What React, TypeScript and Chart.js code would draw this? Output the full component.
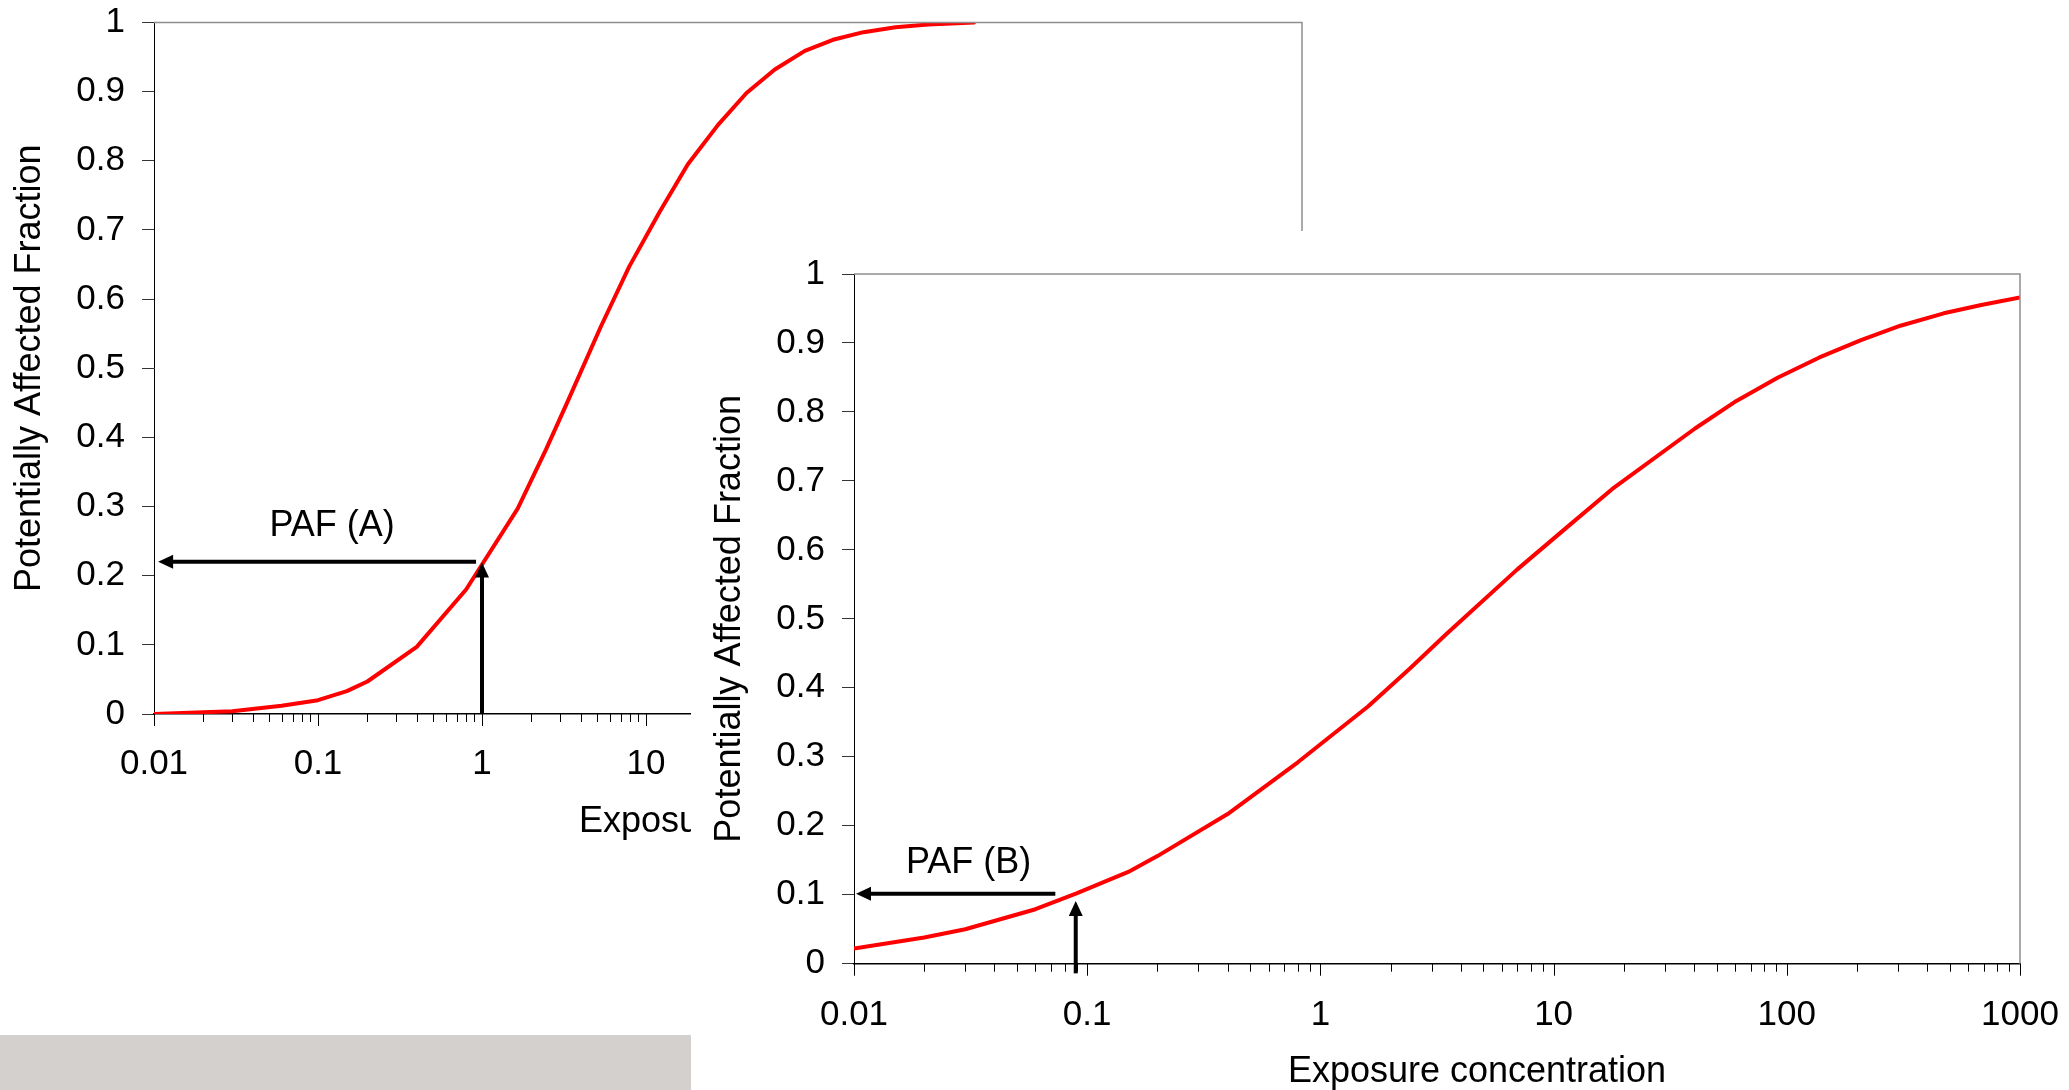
import React, { useEffect, useRef } from 'react';
import { Chart, registerables } from 'chart.js';

Chart.register(...registerables);

const FONT = "'Liberation Sans', Arial, Helvetica, sans-serif";

// ---- Chart A (left, behind) ----
const concA = [0.01, 0.02, 0.03, 0.06, 0.1, 0.15, 0.2, 0.4, 0.8, 1.65, 2.45, 3.3, 5.3, 7.9, 12.1, 18, 27.5, 41, 61, 93, 138, 212, 332, 525, 1000];
const pafA = [0, 0.0025, 0.004, 0.012, 0.02, 0.033, 0.047, 0.097, 0.18, 0.297, 0.382, 0.45, 0.56, 0.647, 0.726, 0.795, 0.852, 0.898, 0.932, 0.959, 0.975, 0.986, 0.993, 0.997, 1.0];

// ---- Chart B (right, in front) ----
const concB = [0.01, 0.02, 0.03, 0.06, 0.09, 0.15, 0.2, 0.4, 0.8, 1.6, 2.42, 3.47, 6.95, 11.8, 17.8, 40.4, 60.8, 91.7, 138, 208, 307, 471, 682, 1000];
const pafB = [0.022, 0.038, 0.05, 0.079, 0.102, 0.133, 0.156, 0.217, 0.292, 0.373, 0.428, 0.478, 0.571, 0.637, 0.688, 0.776, 0.816, 0.85, 0.879, 0.904, 0.925, 0.943, 0.955, 0.966];

// ---- Axes ----
const yTickValues = [0, 0.1, 0.2, 0.3, 0.4, 0.5, 0.6, 0.7, 0.8, 0.9, 1];
const yTickLabels = ['0', '0.1', '0.2', '0.3', '0.4', '0.5', '0.6', '0.7', '0.8', '0.9', '1'];
const xDecadesA = [0.01, 0.1, 1, 10, 100, 1000, 10000, 100000];
const xDecadeLabelsA = ['0.01', '0.1', '1', '10', '100', '1000', '10000', '100000'];
const xDecadesB = [0.01, 0.1, 1, 10, 100, 1000];
const xDecadeLabelsB = ['0.01', '0.1', '1', '10', '100', '1000'];
const minorSteps = [2, 3, 4, 5, 6, 7, 8, 9];

const yTitle = 'Potentially Affected Fraction';
const xTitle = 'Exposure concentration';

// arrows: [fromConc, fromPaf, toConc (head), toPaf (head)]
const arrowsA = [
  [0.92, 0.22, 0.0106, 0.22],
  [1, 0, 1, 0.219],
];
const arrowsB = [
  [0.073, 0.1015, 0.0102, 0.1015],
  [0.0893, -0.014, 0.0893, 0.091],
];
// [text, conc (centre), paf (baseline)]
const labelA: [string, number, number] = ['PAF (A)', 0.122, 0.257];
const labelB: [string, number, number] = ['PAF (B)', 0.031, 0.131];

function isMajor(v: number) {
  const l = Math.log10(v);
  return Math.abs(l - Math.round(l)) < 1e-6;
}

function drawArrow(ctx: CanvasRenderingContext2D, x0: number, y0: number, x1: number, y1: number) {
  const ang = Math.atan2(y1 - y0, x1 - x0);
  const headLen = 15;
  const headW = 14;
  const bx = x1 - headLen * Math.cos(ang);
  const by = y1 - headLen * Math.sin(ang);
  ctx.strokeStyle = '#000';
  ctx.fillStyle = '#000';
  ctx.lineWidth = 4;
  ctx.lineCap = 'butt';
  ctx.beginPath();
  ctx.moveTo(x0, y0);
  ctx.lineTo(bx + Math.cos(ang), by + Math.sin(ang));
  ctx.stroke();
  ctx.beginPath();
  ctx.moveTo(x1, y1);
  ctx.lineTo(bx + (headW / 2) * Math.sin(ang), by - (headW / 2) * Math.cos(ang));
  ctx.lineTo(bx - (headW / 2) * Math.sin(ang), by + (headW / 2) * Math.cos(ang));
  ctx.closePath();
  ctx.fill();
}

function makeConfig(p: any) {
  const { conc, paf, decades, decadeLabels, arrows, label, yTitlePad, layoutPadding, yWidth, xHeight, xLabelPad } = p;
  const xTickList: { value: number }[] = [];
  const max = decades[decades.length - 1];
  for (const d of decades) {
    xTickList.push({ value: d });
    if (d < max) for (const m of minorSteps) xTickList.push({ value: d * m });
  }

  const decor = {
    id: 'decor',
    afterDraw(chart: any) {
      const { ctx, chartArea: ca } = chart;
      const xs = chart.scales.x;
      const ys = chart.scales.y;
      ctx.save();
      // top & right frame
      ctx.strokeStyle = '#8f8f8f';
      ctx.lineWidth = 1.5;
      ctx.beginPath();
      ctx.moveTo(ca.left, ca.top);
      ctx.lineTo(ca.right, ca.top);
      ctx.lineTo(ca.right, ca.bottom);
      ctx.stroke();
      // x tick marks (major longer)
      ctx.strokeStyle = '#000';
      ctx.lineWidth = 1;
      ctx.beginPath();
      for (const t of xs.ticks) {
        const px = Math.round(xs.getPixelForValue(t.value)) + 0.5;
        ctx.moveTo(px, ca.bottom);
        ctx.lineTo(px, ca.bottom + (isMajor(t.value) ? 12 : 8));
      }
      ctx.stroke();
      // arrows
      for (const a of arrows) {
        drawArrow(ctx, xs.getPixelForValue(a[0]), ys.getPixelForValue(a[1]), xs.getPixelForValue(a[2]), ys.getPixelForValue(a[3]));
      }
      // texts
      ctx.fillStyle = '#000';
      ctx.font = `36px ${FONT}`;
      ctx.textAlign = 'center';
      ctx.textBaseline = 'alphabetic';
      ctx.fillText(label[0], xs.getPixelForValue(label[1]), ys.getPixelForValue(label[2]));
      ctx.fillText(xTitle, (ca.left + ca.right) / 2 + 40, ca.bottom + 118);
      ctx.restore();
    },
  };

  return {
    type: 'line',
    data: {
      datasets: [
        {
          data: conc.map((c: number, i: number) => ({ x: c, y: paf[i] })),
          borderColor: '#ff0000',
          backgroundColor: '#ff0000',
          borderWidth: 4,
          pointRadius: 0,
          tension: 0,
          fill: false,
          borderCapStyle: 'round',
          borderJoinStyle: 'round',
        },
      ],
    },
    options: {
      responsive: false,
      animation: false,
      events: [],
      layout: { padding: layoutPadding, autoPadding: false },
      plugins: { legend: { display: false }, tooltip: { enabled: false }, title: { display: false } },
      scales: {
        x: {
          type: 'logarithmic',
          min: decades[0],
          max,
          afterBuildTicks: (s: any) => {
            s.ticks = xTickList.map((t) => ({ value: t.value }));
          },
          afterFit: (s: any) => {
            s.height = xHeight;
            s.paddingLeft = 0;
            s.paddingRight = 0;
          },
          ticks: {
            autoSkip: false,
            maxRotation: 0,
            minRotation: 0,
            padding: xLabelPad,
            color: '#000',
            font: { family: FONT, size: 35 },
            callback: (v: number) => {
              const i = decades.findIndex((d: number) => Math.abs(d - v) / d < 1e-9);
              return i >= 0 ? decadeLabels[i] : '';
            },
          },
          grid: { display: true, drawOnChartArea: false, drawTicks: false },
          border: { display: true, color: '#000', width: 1.5 },
        },
        y: {
          type: 'linear',
          min: 0,
          max: 1,
          afterBuildTicks: (s: any) => {
            s.ticks = yTickValues.map((v) => ({ value: v }));
          },
          afterFit: (s: any) => {
            s.width = yWidth;
            s.paddingTop = 0;
            s.paddingBottom = 0;
          },
          ticks: {
            padding: 17,
            color: '#000',
            font: { family: FONT, size: 35 },
            callback: (v: number) => {
              const i = yTickValues.findIndex((t) => Math.abs(t - v) < 1e-9);
              return i >= 0 ? yTickLabels[i] : '';
            },
          },
          grid: { display: true, drawOnChartArea: false, drawTicks: true, tickLength: 12, color: '#333', tickColor: '#333' },
          border: { display: true, color: '#000', width: 1 },
          title: {
            display: true,
            text: yTitle,
            color: '#000',
            font: { family: FONT, size: 36 },
            padding: { top: yTitlePad, bottom: 0 },
          },
        },
      },
    },
    plugins: [decor],
  };
}

function ChartCanvas({ config, left, top, width, height, bg }: any) {
  const ref = useRef<HTMLCanvasElement | null>(null);
  useEffect(() => {
    const chart = new Chart(ref.current as HTMLCanvasElement, config);
    return () => chart.destroy();
  }, []);
  return (
    <canvas
      ref={ref}
      width={width}
      height={height}
      style={{ position: 'absolute', left, top, width, height, background: bg, display: 'block' }}
    />
  );
}

export default function App() {
  const configA = makeConfig({
    conc: concA,
    paf: pafA,
    decades: xDecadesA,
    decadeLabels: xDecadeLabelsA,
    arrows: arrowsA,
    label: labelA,
    yTitlePad: 8.1,
    layoutPadding: { left: 0, top: 22.5, right: 18, bottom: 0 },
    yWidth: 154,
    xHeight: 321,
    xLabelPad: 29,
  });
  const configB = makeConfig({
    conc: concB,
    paf: pafB,
    decades: xDecadesB,
    decadeLabels: xDecadeLabelsB,
    arrows: arrowsB,
    label: labelB,
    yTitlePad: 17.1,
    layoutPadding: { left: 0, top: 43, right: 49, bottom: 0 },
    yWidth: 163,
    xHeight: 126.3,
    xLabelPad: 30.5,
  });
  return (
    <div style={{ position: 'absolute', left: 0, top: 0, width: 2069, height: 1090, background: '#ffffff', overflow: 'hidden' }}>
      <ChartCanvas config={configA} left={0} top={0} width={1320} height={1035} bg="transparent" />
      <div style={{ position: 'absolute', left: 0, top: 1035, width: 691, height: 55, background: '#d4d0cd' }} />
      <ChartCanvas config={configB} left={691} top={231} width={1378} height={859} bg="#ffffff" />
    </div>
  );
}
